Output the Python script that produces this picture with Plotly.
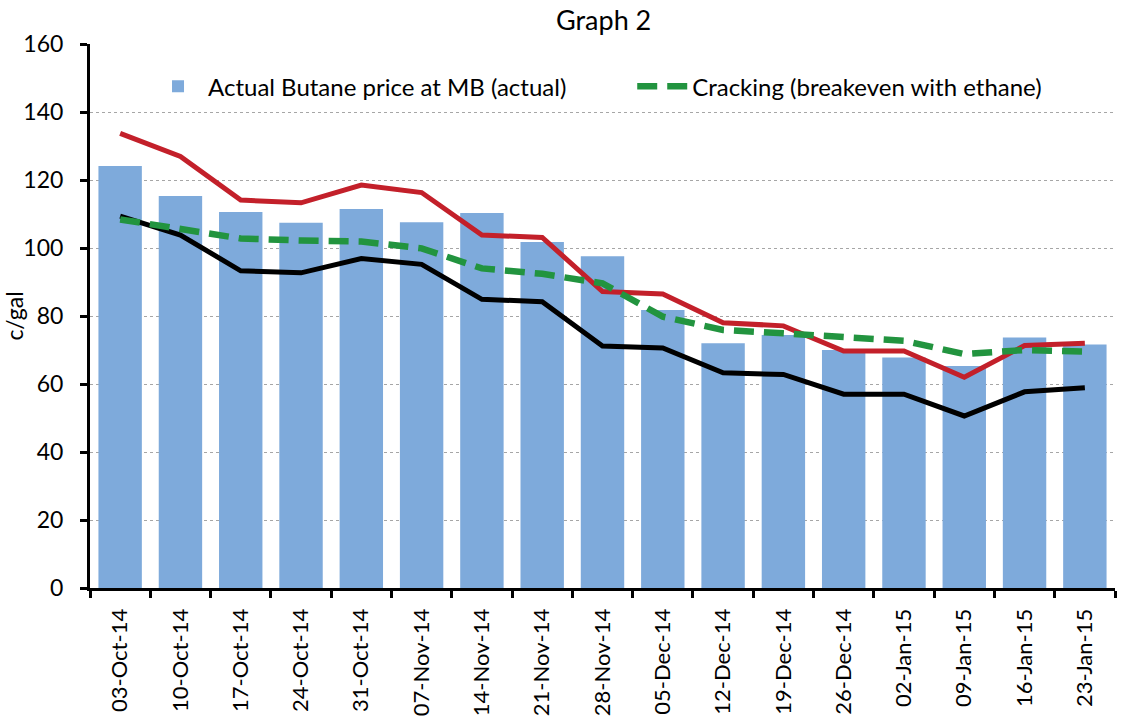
import plotly.graph_objects as go

dates = ["03-Oct-14", "10-Oct-14", "17-Oct-14", "24-Oct-14", "31-Oct-14", "07-Nov-14",
         "14-Nov-14", "21-Nov-14", "28-Nov-14", "05-Dec-14", "12-Dec-14", "19-Dec-14",
         "26-Dec-14", "02-Jan-15", "09-Jan-15", "16-Jan-15", "23-Jan-15"]
butane_actual = [124.1, 115.3, 110.6, 107.4, 111.5, 107.6, 110.3, 101.8, 97.6, 81.8,
                 72.0, 74.4, 70.0, 67.8, 65.3, 73.7, 71.6]
red_series = [133.7, 126.9, 114.1, 113.3, 118.5, 116.3, 103.8, 103.1, 87.2, 86.5,
              78.0, 77.1, 69.7, 69.7, 62.0, 71.3, 72.0]
black_series = [109.4, 103.8, 93.3, 92.7, 96.9, 95.2, 84.9, 84.2, 71.2, 70.6,
                63.3, 62.8, 57.0, 57.0, 50.6, 57.7, 58.9]
cracking = [108.4, 105.5, 102.8, 102.2, 101.9, 99.9, 94.0, 92.4, 89.6, 79.8,
            75.9, 74.9, 73.7, 72.7, 68.8, 70.0, 69.5]

FONT = "Lato, Open Sans, sans-serif"

fig = go.Figure()
fig.add_trace(go.Bar(x=dates, y=butane_actual, name="Actual Butane price at MB (actual)",
                     legend="legend",
                     marker=dict(color="#7EAADB", line=dict(width=0))))
fig.add_trace(go.Scatter(x=dates, y=red_series, mode="lines", showlegend=False,
                         line=dict(color="#C3202A", width=5)))
fig.add_trace(go.Scatter(x=dates, y=black_series, mode="lines", showlegend=False,
                         line=dict(color="#000000", width=5)))
fig.add_trace(go.Scatter(x=dates, y=cracking, mode="lines", name="Cracking (breakeven with ethane)",
                         legend="legend2",
                         line=dict(color="#22943F", width=6.5, dash="20px,10px")))

legend_common = dict(orientation="h", y=0.963, xanchor="left", yanchor="top",
                     font=dict(size=24, family=FONT), bgcolor="rgba(255,255,255,0)",
                     itemwidth=50)

fig.update_layout(
    width=1122, height=718,
    paper_bgcolor="white", plot_bgcolor="white",
    margin=dict(l=90, r=7, t=44, b=130),
    title=dict(text="Graph 2", x=0.538, xanchor="center", y=0.971, yanchor="middle",
               font=dict(family=FONT, size=27, color="black")),
    font=dict(family=FONT, color="black"),
    bargap=0.28,
    showlegend=True,
    legend=dict(x=0.0566, **legend_common),
    legend2=dict(x=0.529, **legend_common),
    xaxis=dict(type="category", showline=True, linecolor="black", linewidth=3,
               ticks="outside", tickson="boundaries", ticklen=7, tickwidth=2.5, tickcolor="black",
               tickangle=-90, tickfont=dict(family=FONT, size=22), ticklabelstandoff=9,
               showgrid=False, automargin=False),
    yaxis=dict(range=[0, 160], dtick=20, showline=True, linecolor="black", linewidth=3,
               ticks="outside", ticklen=7, tickwidth=2.5, tickcolor="black",
               ticklabelstandoff=12, automargin=False,
               tickfont=dict(size=23), showgrid=True, gridcolor="#A6A6A6",
               griddash="dot", gridwidth=1, zeroline=False,
               title=dict(text="c/gal", font=dict(size=23), standoff=0)),
)

fig.write_html("out.html", config={"displayModeBar": False},
               post_script="document.body.style.margin='0';")
